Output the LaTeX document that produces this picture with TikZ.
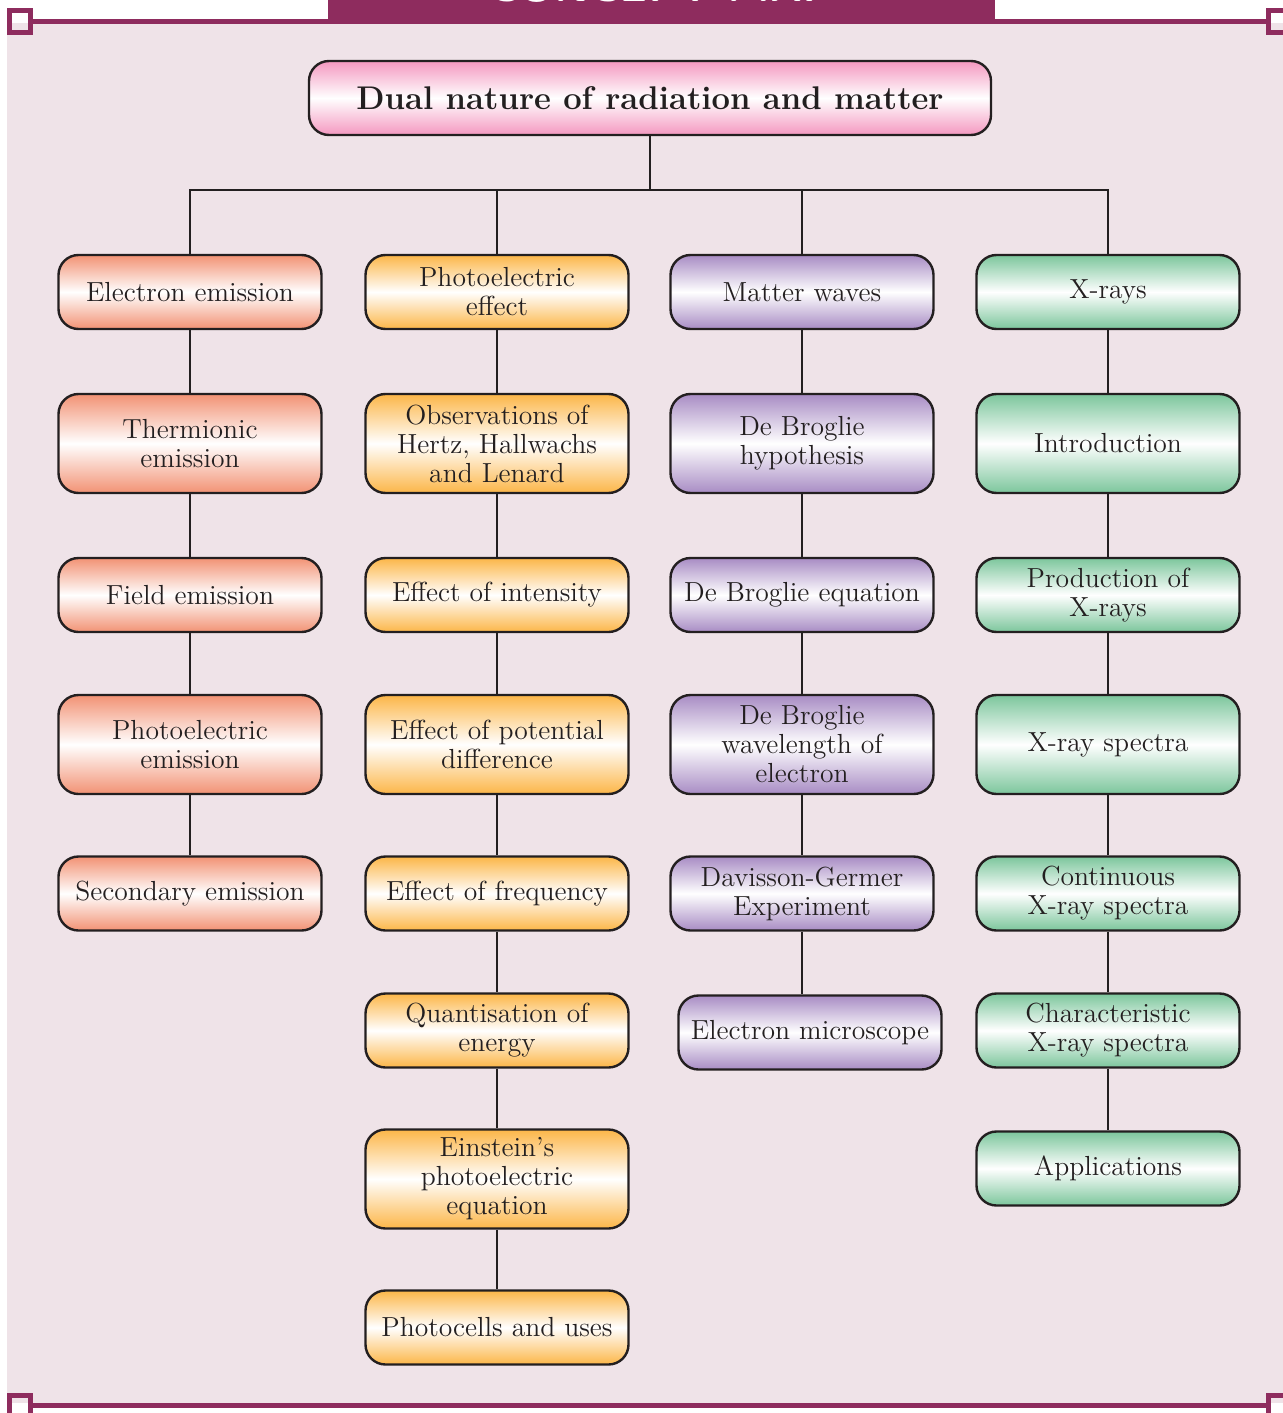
\documentclass[tikz,border=0pt]{standalone}
\usepackage{tikz}

\definecolor{plum}{RGB}{142,44,94}
\definecolor{bgpink}{RGB}{239,227,232}
\definecolor{salmon}{RGB}{242,146,116}
\definecolor{amber}{RGB}{252,182,72}
\definecolor{lilac}{RGB}{168,140,196}
\definecolor{mint}{RGB}{124,198,156}
\definecolor{rosy}{RGB}{244,152,192}
\definecolor{ink}{RGB}{35,31,32}

\tikzset{
  box/.style={draw=ink, line width=1.2pt, rounded corners=10pt, minimum width=131.5pt,
    align=center, inner sep=2pt, text=ink, font=\fontsize{13.8}{14.5}\selectfont},
  short/.style={box, minimum height=37pt},
  tall/.style={box, minimum height=49.5pt},
  emis/.style={top color=salmon, bottom color=salmon, middle color=white},
  photo/.style={top color=amber, bottom color=amber, middle color=white},
  wave/.style={top color=lilac, bottom color=lilac, middle color=white},
  xray/.style={top color=mint, bottom color=mint, middle color=white},
  link/.style={draw=ink, line width=1pt},
}

\begin{document}
\begin{tikzpicture}[x=0.5pt, y=-0.5pt]
  \useasboundingbox (0,0) rectangle (1283,1413);
  % frame
  \fill[bgpink] (7,23) rectangle (1283,1403);
  \fill[plum] (33,19) rectangle (1266,24);
  \fill[plum] (33,1403) rectangle (1266,1408);
  \fill[plum] (328,0) rectangle (995,24);
  \node[anchor=base, text=white, font=\sffamily\bfseries\fontsize{22}{24}\selectfont] (banner) at (661,2) {CONCEPT MAP};
  \draw[plum, line width=2.5pt] (9.5,10.5) rectangle (30.5,32.5);
  \draw[plum, line width=2.5pt] (1268.5,10.5) rectangle (1289.5,32.5);
  \draw[plum, line width=2.5pt] (9.5,1395.5) rectangle (30.5,1417.5);
  \draw[plum, line width=2.5pt] (1268.5,1395.5) rectangle (1289.5,1417.5);

  % title
  \node[box, minimum width=341pt, minimum height=37pt, top color=rosy, bottom color=rosy, middle color=white,
    font=\fontsize{16.4}{20}\selectfont\bfseries] (dual) at (650,98) {Dual nature of radiation and matter};

  % electron emission
  \node[short,emis] (e1) at (190,292) {Electron emission};
  \node[tall,emis] (e2) at (190,443.5) {Thermionic\\emission};
  \node[short,emis] (e3) at (190,595) {Field emission};
  \node[tall,emis] (e4) at (190,744.5) {Photoelectric\\emission};
  \node[short,emis] (e5) at (190,893.5) {Secondary emission};

  % photoelectric effect
  \node[short,photo] (p1) at (497,292) {Photoelectric\\effect};
  \node[tall,photo] (p2) at (497,443.5) {Observations of\\Hertz, Hallwachs\\and Lenard};
  \node[short,photo] (p3) at (497,595) {Effect of intensity};
  \node[tall,photo] (p4) at (497,744.5) {Effect of potential\\difference};
  \node[short,photo] (p5) at (497,893.5) {Effect of frequency};
  \node[short,photo] (p6) at (497,1030.5) {Quantisation of\\energy};
  \node[tall,photo] (p7) at (497,1179) {Einstein's\\photoelectric\\equation};
  \node[short,photo] (p8) at (497,1327.5) {Photocells and uses};

  % matter waves
  \node[short,wave] (m1) at (802,292) {Matter waves};
  \node[tall,wave] (m2) at (802,443.5) {De Broglie\\hypothesis};
  \node[short,wave] (m3) at (802,595) {De Broglie equation};
  \node[tall,wave] (m4) at (802,744.5) {De Broglie\\wavelength of\\electron};
  \node[short,wave] (m5) at (802,893.5) {Davisson-Germer\\Experiment};
  \node[short,wave] (m6) at (810,1032.5) {Electron microscope};

  % x-rays
  \node[short,xray] (x1) at (1108,292) {X-rays};
  \node[tall,xray] (x2) at (1108,443.5) {Introduction};
  \node[short,xray] (x3) at (1108,595) {Production of\\X-rays};
  \node[tall,xray] (x4) at (1108,744.5) {X-ray spectra};
  \node[short,xray] (x5) at (1108,893.5) {Continuous\\X-ray spectra};
  \node[short,xray] (x6) at (1108,1030.5) {Characteristic\\X-ray spectra};
  \node[short,xray] (x7) at (1108,1168.5) {Applications};

  % links
  \coordinate (hub) at (650,190);
  \draw[link] (dual) -- (hub);
  \draw[link] (e1) |- (hub) -| (x1);
  \draw[link] (p1) -- (p1 |- hub);
  \draw[link] (m1) -- (m1 |- hub);
  \draw[link] (e1) -- (e2);
  \draw[link] (e2) -- (e3);
  \draw[link] (e3) -- (e4);
  \draw[link] (e4) -- (e5);
  \draw[link] (p1) -- (p2);
  \draw[link] (p2) -- (p3);
  \draw[link] (p3) -- (p4);
  \draw[link] (p4) -- (p5);
  \draw[link] (p5) -- (p6);
  \draw[link] (p6) -- (p7);
  \draw[link] (p7) -- (p8);
  \draw[link] (m1) -- (m2);
  \draw[link] (m2) -- (m3);
  \draw[link] (m3) -- (m4);
  \draw[link] (m4) -- (m5);
  \draw[link] (m5) -- (m5 |- m6.north);
  \draw[link] (x1) -- (x2);
  \draw[link] (x2) -- (x3);
  \draw[link] (x3) -- (x4);
  \draw[link] (x4) -- (x5);
  \draw[link] (x5) -- (x6);
  \draw[link] (x6) -- (x7);
\end{tikzpicture}
\end{document}
